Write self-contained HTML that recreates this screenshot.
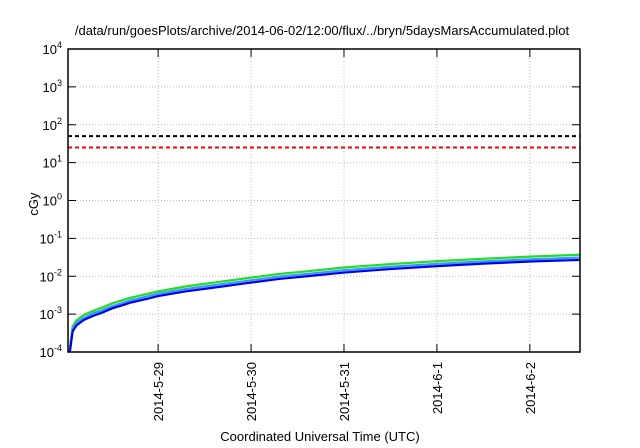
<!DOCTYPE html>
<html><head><meta charset="utf-8"><style>
body{margin:0;background:#fff}
svg{display:block;font-family:"Liberation Sans",sans-serif}
</style></head><body>
<svg id="c" width="640" height="448">
<text x="322" y="35" text-anchor="middle" font-size="13">/data/run/goesPlots/archive/2014-06-02/12:00/flux/../bryn/5daysMarsAccumulated.plot</text>
<text x="320" y="441" text-anchor="middle" font-size="13">Coordinated Universal Time (UTC)</text>
<text transform="translate(38,204) rotate(-90)" text-anchor="middle" font-size="13">cGy</text>
<g id="g"></g>
</svg>
<script>
const xTickLabels=["2014-5-29","2014-5-30","2014-5-31","2014-6-1","2014-6-2"];
const xTickDays=[1,2,3,4,5];
const yTickExps=[-4,-3,-2,-1,0,1,2,3,4];
const times=[0.05,0.08,0.12,0.2,0.3,0.4,0.5,0.7,0.9,1.0,1.3,1.6,2.0,2.3,2.6,3.0,3.5,4.0,4.5,5.0,5.54];
const blue=[1e-4,3.5e-4,5e-4,7e-4,9e-4,1.1e-3,1.4e-3,2e-3,2.6e-3,3e-3,4e-3,5e-3,6.8e-3,8.5e-3,1.0e-2,1.25e-2,1.55e-2,1.85e-2,2.15e-2,2.45e-2,2.7e-2];
const lightBlue=[1.1e-4,4e-4,5.8e-4,8e-4,1.05e-3,1.27e-3,1.6e-3,2.3e-3,3e-3,3.45e-3,4.6e-3,5.8e-3,7.8e-3,9.8e-3,1.15e-2,1.44e-2,1.78e-2,2.13e-2,2.47e-2,2.8e-2,3.1e-2];
const green=[1.3e-4,4.7e-4,6.8e-4,9.5e-4,1.22e-3,1.5e-3,1.9e-3,2.7e-3,3.5e-3,4e-3,5.4e-3,6.8e-3,9.2e-3,1.15e-2,1.35e-2,1.7e-2,2.1e-2,2.5e-2,2.9e-2,3.3e-2,3.7e-2];
const limits=[50,25];
const limitColors=["#000","#f00"];
const L=68,R=580,T=49,B=352,d0=0.03,d1=5.54;
const X=d=>L+(d-d0)/(d1-d0)*(R-L);
const Y=v=>B-(Math.log10(v)+4)/8*(B-T);
const g=document.getElementById('g');const NS="http://www.w3.org/2000/svg";
function mk(t,a){const e=document.createElementNS(NS,t);for(const k in a)e.setAttribute(k,a[k]);g.appendChild(e);return e;}
yTickExps.forEach(p=>{const y=Y(Math.pow(10,p));
 if(p>-4&&p<4){const l=mk('line',{x1:L,x2:R,y1:y,y2:y,stroke:'#bbb','stroke-dasharray':'1,2'});
 
 }
 const t1=mk('line',{x1:L,x2:L+8,y1:y,y2:y,stroke:'#000'});
 
 
 const t2=mk('line',{x1:R-8,x2:R,y1:y,y2:y,stroke:'#000'});
 
 
 const tx=mk('text',{x:L-6,y:y+5,'text-anchor':'end','font-size':'13'});
 tx.innerHTML='10<tspan dy="-6" font-size="9">'+p+'</tspan>';
 
 });
xTickDays.forEach((d,i)=>{const x=X(d);
 const l=mk('line',{x1:x,x2:x,y1:T,y2:B,stroke:'#bbb','stroke-dasharray':'1,2'});
 
 
 const t1=mk('line',{x1:x,x2:x,y1:B-8,y2:B,stroke:'#000'});
 
 
 const t2=mk('line',{x1:x,x2:x,y1:T,y2:T+8,stroke:'#000'});
 
 
 const tx=mk('text',{transform:`translate(${x+5},${B+10}) rotate(-90)`,'text-anchor':'end','font-size':'13'});
 tx.textContent=xTickLabels[i];
 
 });
limits.forEach((v,i)=>{const l=mk('line',{x1:L,x2:R,y1:Y(v),y2:Y(v),stroke:limitColors[i],'stroke-width':2,'stroke-dasharray':'4,3'});
 
 });
[[green,'#22dd22','series-green'],[lightBlue,'#3399ff','series-light-blue'],[blue,'#0000ee','series-blue']].forEach(([s,c,n])=>{
 const p=mk('polyline',{points:s.map((v,i)=>X(times[i])+','+Y(v)).join(' '),fill:'none',stroke:c,'stroke-width':2.2});
 
 });
const f=mk('rect',{x:L,y:T,width:R-L,height:B-T,fill:'none',stroke:'#000','stroke-width':1.5});


</script>
</body></html>
